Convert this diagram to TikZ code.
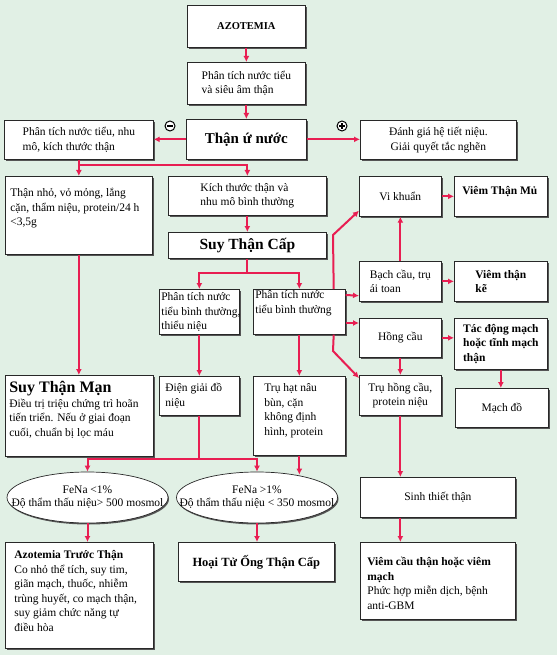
\documentclass[tikz,border=0pt]{standalone}
\usepackage{fontspec}
\setmainfont{Liberation Serif}
\usepackage{tikz}
\usetikzlibrary{shapes.geometric, arrows.meta, positioning, calc, shadows}
\definecolor{mybg}{RGB}{225,240,229}
\definecolor{myred}{RGB}{232,30,82}
\definecolor{myline}{RGB}{40,40,40}
\definecolor{myshadow}{RGB}{85,85,85}
% text block pinned to the top of a box: height, width, top gap, rows
\newcommand{\toptxt}[4]{\parbox[c][#1][t]{#2}{\vspace*{#3}\noindent\begin{tabular}[t]{@{}l@{}}#4\end{tabular}}}
\tikzset{
  box/.style={rectangle, draw=myline, fill=white, line width=0.7pt,
    anchor=north west, inner ysep=0pt, inner xsep=2pt,
    font=\fontsize{11.5}{14.5}\selectfont,
    drop shadow={shadow xshift=2pt, shadow yshift=-2pt, fill=myshadow, opacity=1}},
  sz/.style 2 args={minimum width=#1, minimum height=#2},
  oval/.style={ellipse, draw=myline, fill=white, line width=0.7pt,
    inner sep=0pt, minimum width=161pt, minimum height=51pt,
    font=\fontsize{11.5}{13.5}\selectfont,
    drop shadow={shadow xshift=1pt, shadow yshift=-1.5pt, fill=myshadow, opacity=1}},
  sign/.style={circle, draw=black, fill=white, line width=1pt,
    minimum size=10pt, inner sep=0pt},
  arrow/.style={-{Latex[length=6pt,width=6pt]}, line width=2pt, color=myred},
  line/.style={line width=2pt, color=myred}
}
\begin{document}
\begin{tikzpicture}[x=1pt, y=-1pt]
  \fill[mybg] (0,0) rectangle (557,655);
  \useasboundingbox (0,0) rectangle (557,655);

  % --- Top chain ---
  \node[box, sz={118pt}{42pt}, font=\fontsize{10.5}{12}\selectfont\bfseries] (azo) at (187,5) {AZOTEMIA};
  \node[box, sz={118pt}{42pt}, align=left] (us) at (187,62) {Phân tích nước tiểu\\và siêu âm thận};
  \node[box, sz={120pt}{40pt}, font=\fontsize{15}{17}\selectfont\bfseries] (hydro) at (186,119) {Thận ứ nước};
  \node[box, sz={149pt}{39pt}, align=left] (neg) at (4,120) {Phân tích nước tiểu, nhu\\mô, kích thước thận};
  \node[box, sz={156pt}{39pt}, align=center] (pos) at (360,120) {Đánh giá hệ tiết niệu.\\Giải quyết tắc nghẽn};
  \node[sign] (minus) at (170,126) {\rule[-0.8pt]{6pt}{1.6pt}};
  \node[sign] (plus) at (342,126) {\makebox[0pt]{\rule[-0.8pt]{6pt}{1.6pt}}\makebox[0pt]{\rule[-3pt]{1.6pt}{6pt}}};
  \draw[arrow] (azo) -- (us);
  \draw[arrow] (us) -- (hydro);
  \draw[arrow] (hydro.west) -- (hydro.west -| neg.east);
  \draw[arrow] (hydro.east) -- (hydro.east -| pos.west);

  % --- Kidney size ---
  \node[box, sz={147pt}{78pt}, inner xsep=5pt] (small) at (5,176)
    {\toptxt{78pt}{137pt}{10pt}{Thận nhỏ, vỏ mỏng, lắng\\cặn, thẩm niệu, protein/24 h\\<3,5g}};
  \node[box, sz={158pt}{39pt}, align=left] (size) at (168,176) {Kích thước thận và\\nhu mô bình thường};
  \node[box, sz={158pt}{26pt}, font=\fontsize{15.5}{17}\selectfont\bfseries] (arf) at (168,232) {Suy Thận Cấp};
  \node[box, sz={148pt}{81pt}, inner xsep=4pt] (smn) at (5,375)
    {\toptxt{81pt}{140pt}{6pt}{{\fontsize{16}{18}\selectfont\bfseries Suy Thận Mạn}\\Điều trị triệu chứng trì hoãn\\tiến triển. Nếu ở giai đoạn\\cuối, chuẩn bị lọc máu}};
  \coordinate (nbus) at ($(neg.south)+(0,5)$);
  \draw[arrow] (neg.south) -- (small.north);
  \draw[arrow] (nbus) -| (size.north);
  \draw[arrow] (size) -- (arf);
  \draw[arrow] (small.south) -- (small.south |- smn.north);

  % --- Urinalysis ---
  \node[box, sz={80pt}{45pt}] (ptL) at (159,289)
    {\toptxt{45pt}{76pt}{1pt}{Phân tích nước\\tiểu bình thường,\\thiểu niệu}};
  \node[box, sz={92pt}{45pt}] (ptR) at (253,289)
    {\toptxt{45pt}{88pt}{-1pt}{Phân tích nước\\tiểu bình thường}};
  \node[box, sz={80pt}{39pt}, inner xsep=6pt] (dg) at (159,376)
    {\toptxt{39pt}{68pt}{5pt}{Điện giải đồ\\niệu}};
  \node[box, sz={92pt}{79pt}, inner xsep=11pt] (thn) at (253,376)
    {\toptxt{79pt}{70pt}{5pt}{Trụ hạt nâu\\bùn, cặn\\không định\\hình, protein}};
  \coordinate (abus) at ($(arf.south)+(0,14)$);
  \draw[line] (arf.south) -- (abus);
  \draw[arrow] (abus) -| (ptL.north);
  \draw[arrow] (abus) -| (ptR.north);
  \draw[arrow] (ptL) -- (dg);
  \draw[arrow] (ptR) -- (thn);

  % --- Sediment ---
  \node[box, sz={82pt}{40pt}] (vk) at (359,176) {Vi khuẩn};
  \node[box, sz={93pt}{40pt}, inner xsep=8pt] (vtm) at (454,176)
    {\toptxt{40pt}{77pt}{7.5pt}{\bfseries Viêm Thận Mủ}};
  \node[box, sz={82pt}{40pt}, align=left] (bc) at (359,261) {Bạch cầu, trụ\\ái toan};
  \node[box, sz={93pt}{40pt}, align=left, font=\fontsize{11.5}{14.5}\selectfont\bfseries] (vtk) at (454,261) {Viêm thận\\kẽ};
  \node[box, sz={82pt}{39pt}] (hc) at (359,318) {Hồng cầu};
  \node[box, sz={93pt}{51pt}, align=left, font=\fontsize{11.5}{14.5}\selectfont\bfseries] (tdm) at (454,318) {Tác động mạch\\hoặc tĩnh mạch\\thận};
  \node[box, sz={82pt}{40pt}, align=center] (thc) at (359,375) {Trụ hồng cầu,\\protein niệu};
  \node[box, sz={93pt}{39pt}] (md) at (455,388) {Mạch đồ};
  \coordinate (kvk) at (333,235);
  \coordinate (kthc) at (333,351);
  \draw[arrow] ([xshift=-12pt]ptR.north east) -- (kvk) -- ([yshift=6pt]vk.south west);
  \draw[arrow] ([yshift=-6pt]ptR.north east) -- ([yshift=6pt]bc.south west);
  \draw[arrow] ([yshift=-34pt]ptR.north east) -- ([yshift=-5pt]hc.north west);
  \draw[arrow] ([xshift=-12pt]ptR.south east) -- (kthc) -- ([yshift=-3pt]thc.north west);
  \draw[arrow] (bc) -- (vk);
  \draw[arrow] (vk) -- (vtm);
  \draw[arrow] (bc) -- (vtk);
  \draw[arrow] (hc.east) -- (hc.east -| tdm.west);
  \draw[arrow] (tdm.south) -- (tdm.south |- md.north);
  \draw[arrow] (hc) -- (thc);

  % --- FeNa ---
  \node[oval] (el1) at (87.5,497.5) {\makebox[0pt]{\begin{tabular}{@{}c@{}}FeNa <1\%\\Độ thẩm thấu niệu> 500 mosmol\end{tabular}}};
  \node[oval] (el2) at (257,497.5) {\makebox[0pt]{\begin{tabular}{@{}c@{}}FeNa >1\%\\Độ thẩm thấu niệu < 350 mosmol\end{tabular}}};
  \coordinate (ebus) at ($(dg.south)+(0,43)$);
  \draw[line] (dg.south) -- (ebus);
  \draw[arrow] (ebus) -| (el1.north);
  \draw[arrow] (ebus) -| (el2.north);
  \draw[arrow] (thn.south) -- ($(thn.south |- el2.north)+(0,3)$);

  % --- Outcomes ---
  \node[box, sz={148pt}{106pt}, inner xsep=9pt] (atr) at (5,542)
    {\toptxt{106pt}{130pt}{6pt}{{\bfseries Azotemia Trước Thận}\\Co nhỏ thể tích, suy tim,\\giãn mạch, thuốc, nhiễm\\trùng huyết, co mạch thận,\\suy giảm chức năng tự\\điều hòa}};
  \node[box, sz={156pt}{39pt}, font=\fontsize{12.5}{15}\selectfont\bfseries] (hto) at (178,542) {Hoại Tử Ống Thận Cấp};
  \node[box, sz={155pt}{40pt}] (stt) at (360,477) {Sinh thiết thận};
  \node[box, sz={155pt}{77pt}, inner xsep=7pt] (vct) at (360,542)
    {\toptxt{77pt}{141pt}{13pt}{{\bfseries Viêm cầu thận hoặc viêm}\\{\bfseries mạch}\\Phức hợp miễn dịch, bệnh\\anti-GBM}};
  \draw[arrow] (el1.south) -- (el1.south |- atr.north);
  \draw[arrow] (el2.south) -- (el2.south |- hto.north);
  \draw[arrow] (thc.south) -- (thc.south |- stt.north);
  \draw[arrow] (stt.south -| thc.south) -- (vct.north -| thc.south);
\end{tikzpicture}
\end{document}
